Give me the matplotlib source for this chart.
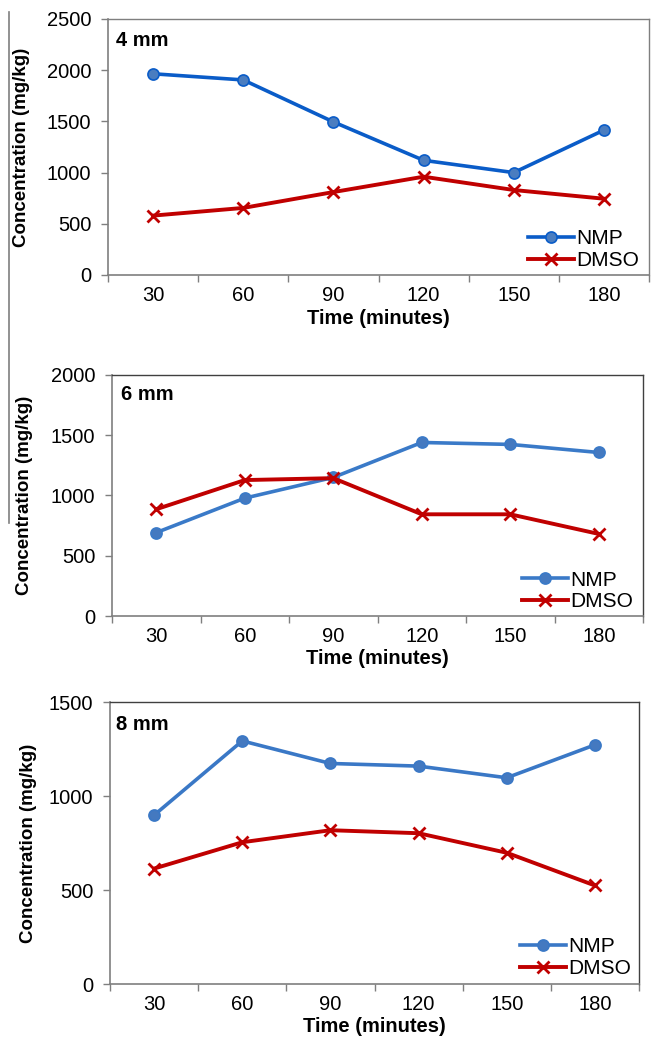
import matplotlib
matplotlib.use("Agg")
import matplotlib.pyplot as plt
from matplotlib.lines import Line2D
import numpy as np

plt.rcParams['font.family'] = ['Liberation Sans', 'DejaVu Sans']

minutes = ['30', '60', '90', '120', '150', '180']
panel_titles = ['4 mm', '6 mm', '8 mm']
nmp_4mm = [1965, 1905, 1495, 1120, 1000, 1415]
dmso_4mm = [580, 655, 810, 960, 830, 745]
nmp_6mm = [692, 978, 1150, 1440, 1424, 1357]
dmso_6mm = [886, 1128, 1144, 844, 844, 681]
nmp_8mm = [898, 1293, 1173, 1159, 1097, 1272]
dmso_8mm = [614, 754, 818, 802, 698, 524]
y_max = [2500, 2000, 1500]
series_labels = ['NMP', 'DMSO']

W, H = 652, 1037
fig = plt.figure(figsize=(W / 100, H / 100), dpi=100)

# pixel boxes: left, right, top, bottom
boxes = [(108, 649, 19, 275), (112, 643, 375, 616), (110, 639, 702, 984)]
ylabel_x = [22, 25, 29]
xlabel_y = [318, 659, 1026]
legend_anchor = [(639, 270), (633, 611), (631, 978)]
nmp_line_col = ['#0A5CC8', '#3A7AC8', '#3A78C6']
nmp_face_col = ['#4A7DC0', '#4479C0', '#4479C0']
spine_col = ['#7F7F7F', '#404040', '#404040']
title_pos = [(116, 40), (121, 395), (116, 724)]

data = [(nmp_4mm, dmso_4mm), (nmp_6mm, dmso_6mm), (nmp_8mm, dmso_8mm)]

for i, (l, r, t, b) in enumerate(boxes):
    ax = fig.add_axes([l / W, 1 - b / H, (r - l) / W, (b - t) / H])
    nmp, dmso = data[i]
    xpos = np.arange(len(minutes)) + 0.5
    ax.plot(xpos, nmp, color=nmp_line_col[i], lw=2.6, marker='o', ms=8,
            mfc=nmp_face_col[i], mec=nmp_line_col[i], mew=1.2, label=series_labels[0], zorder=3)
    ax.plot(xpos, dmso, color='#C00000', lw=2.8, marker='x', ms=8,
            mec='#C00000', mew=2.0, label=series_labels[1], zorder=3)
    ax.set_xlim(0, len(minutes))
    ax.set_ylim(0, y_max[i])
    ax.set_yticks(np.arange(0, y_max[i] + 1, 500))
    ax.set_xticks(np.arange(0, len(minutes) + 1))
    ax.set_xticklabels([])
    ax.set_xticks(xpos, minor=True)
    ax.set_xticklabels(minutes, minor=True)
    ax.tick_params(axis='x', which='major', direction='out', length=5, width=1, color='#7F7F7F')
    ax.tick_params(axis='x', which='minor', length=0, pad=8, labelsize=14.5)
    ax.tick_params(axis='y', direction='out', length=5, width=1, color='#7F7F7F', pad=7, labelsize=14.5)
    for s in ['top', 'right']:
        ax.spines[s].set_color(spine_col[i])
        ax.spines[s].set_linewidth(1.0)
    for s in ['left', 'bottom']:
        ax.spines[s].set_color('#7F7F7F')
        ax.spines[s].set_linewidth(1.2)
    tx, ty = title_pos[i]
    ax.text((tx - l) / (r - l), (b - ty) / (b - t), panel_titles[i],
            transform=ax.transAxes, fontsize=14.5, fontweight='bold', ha='left', va='center')
    ax.set_ylabel('Concentration (mg/kg)', fontsize=13.5, fontweight='bold')
    ax.yaxis.set_label_coords((ylabel_x[i] - l) / (r - l), 0.5)
    ax.yaxis.label.set_va('center')
    ax.set_xlabel('Time (minutes)', fontsize=14.5, fontweight='bold')
    ax.xaxis.set_label_coords(0.5, -(xlabel_y[i] - b) / (b - t))
    ax.xaxis.label.set_va('center')
    ax_x, ax_y = legend_anchor[i]
    ax.legend(loc='lower right', bbox_to_anchor=((ax_x - l) / (r - l), (b - ax_y) / (b - t)),
              frameon=False, fontsize=15, handlelength=2.2, handletextpad=0.1,
              labelspacing=0.12, borderpad=0, borderaxespad=0)

# stray vertical rule at the far left of the original figure
fig.add_artist(Line2D([9 / W, 9 / W], [1 - 12 / H, 1 - 523 / H], transform=fig.transFigure,
                      color='#7F7F7F', lw=1.2))

fig.savefig('out.png', dpi=100)
